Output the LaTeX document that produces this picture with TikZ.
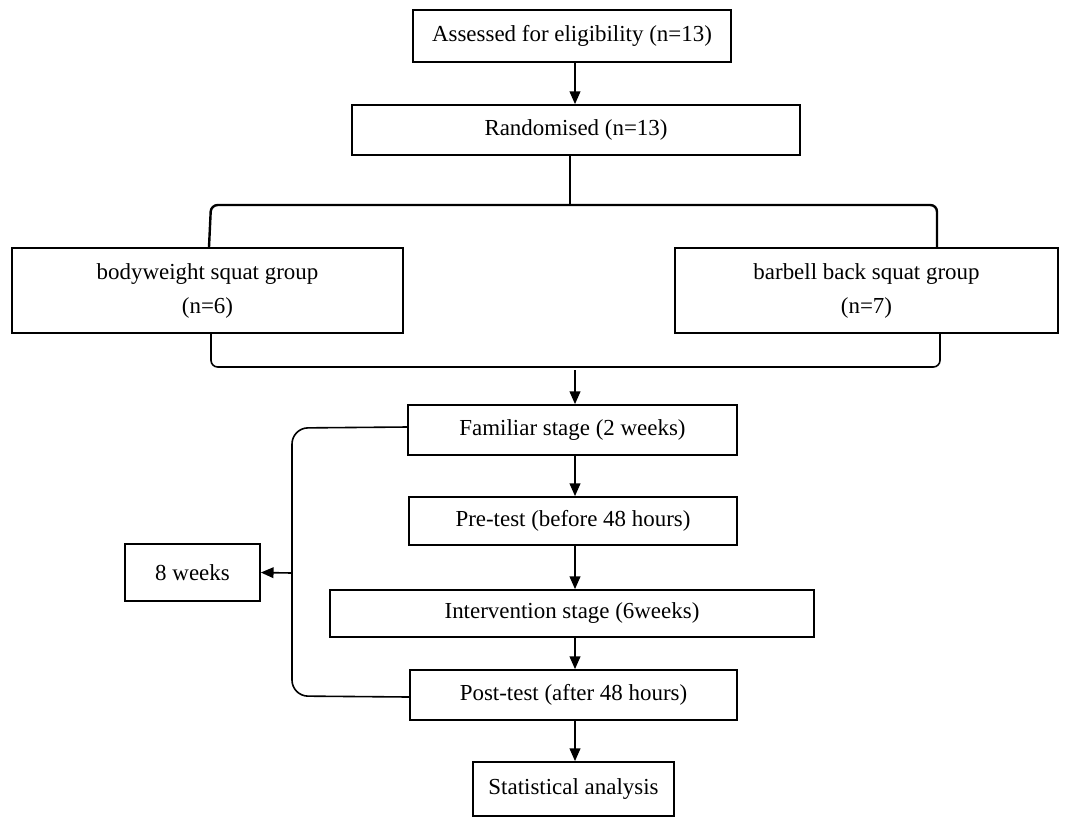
\documentclass[tikz,border=0pt]{standalone}
\usepackage{fontspec}
\setmainfont{Liberation Serif}
\usetikzlibrary{arrows.meta}
\begin{document}
\begin{tikzpicture}[x=0.75pt,y=-0.75pt,
  box/.style={draw,line width=1.3pt,inner sep=0pt,align=center,
    font=\fontsize{17.2}{25.5}\selectfont},
  link/.style={line width=1.2pt},
  arr/.style={link,-{Triangle[length=9.5pt,width=8pt]}},
  brace/.style={line width=1.8pt,rounded corners=5pt}]
\useasboundingbox (0,0) rectangle (1068,819);
\node[box,minimum width=318*0.75pt,minimum height=52*0.75pt] (a) at (572,36) {Assessed for eligibility (n=13)};
\node[box,minimum width=448*0.75pt,minimum height=50*0.75pt] (r) at (576,130) {Randomised (n=13)};
\node[box,minimum width=391*0.75pt,minimum height=85*0.75pt] (bw) at (207.5,290.5) {bodyweight squat group\\(n=6)};
\node[box,minimum width=383*0.75pt,minimum height=85*0.75pt] (bb) at (866.5,290.5) {barbell back squat group\\(n=7)};
\node[box,minimum width=329*0.75pt,minimum height=50*0.75pt] (f) at (572.5,430) {Familiar stage (2 weeks)};
\node[box,minimum width=328*0.75pt,minimum height=48*0.75pt] (p) at (573,521) {Pre-test (before 48 hours)};
\node[box,minimum width=484*0.75pt,minimum height=47*0.75pt] (i) at (572,613.5) {Intervention stage (6weeks)};
\node[box,minimum width=327*0.75pt,minimum height=50*0.75pt] (po) at (573.5,695) {Post-test (after 48 hours)};
\node[box,minimum width=201*0.75pt,minimum height=54*0.75pt] (s) at (573.5,789) {Statistical analysis};
\node[box,minimum width=135*0.75pt,minimum height=57*0.75pt] (w) at (192.5,572.5) {8 weeks};
% arrows in the main column
\draw[arr] (a.south -| 575,0) -- (r.north -| 575,0);
\draw[link] (r.south -| 570,0) -- (570,205);
\draw[brace] (bw.north -| 209,0) -- (211,205) -- (937,205) -- (bb.north -| 937,0);
\draw[link,rounded corners=5pt] (bw.south -| 211,0) -- (211,367) -- (940,367) -- (bb.south -| 940,0);
\coordinate (m) at (575,370);
\draw[arr] (m) -- (f.north -| m);
\draw[arr] (f.south -| m) -- (p.north -| m);
\draw[arr] (p.south -| m) -- (i.north -| m);
\draw[arr] (i.south -| m) -- (po.north -| m);
\draw[arr] (po.south -| m) -- (s.north -| m);
% 8 weeks bracket
\draw[link,rounded corners=12pt] (f.west |- 0,427) -- (292,428) -- (292,696) -- (po.west |- 0,697);
\coordinate (k) at (292,573);
\draw[arr] (k) -- (w.east);
\end{tikzpicture}
\end{document}
